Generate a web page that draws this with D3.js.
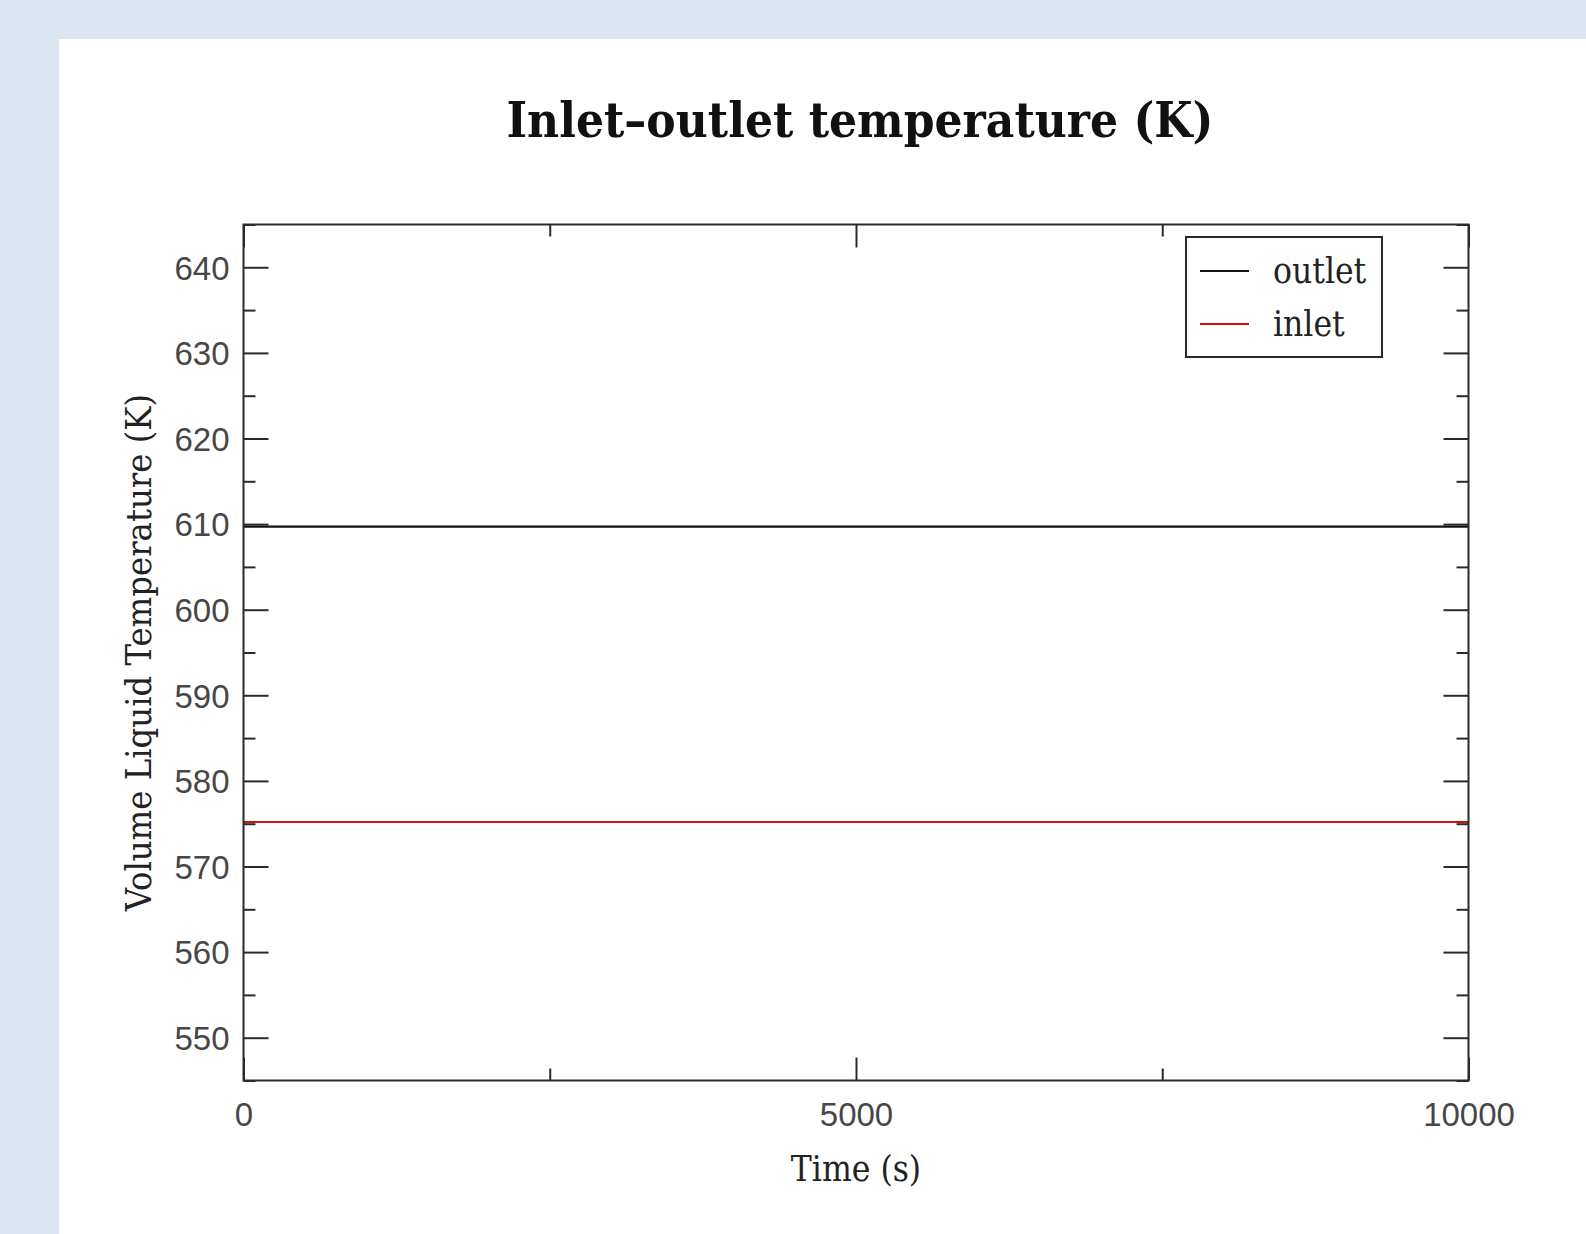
<!DOCTYPE html>
<html>
<head>
<meta charset="utf-8">
<script src="https://cdn.jsdelivr.net/npm/d3@7"></script>
<style>
  html, body { margin: 0; padding: 0; background: #dce6f1; }
  svg { display: block; }
</style>
</head>
<body>
<svg id="chart" width="1586" height="1234"></svg>
<script>
// ---- data ----
const timeValues   = [0, 1000, 2000, 3000, 4000, 5000, 6000, 7000, 8000, 9000, 10000];
const outletValues = [609.7, 609.7, 609.7, 609.7, 609.7, 609.7, 609.7, 609.7, 609.7, 609.7, 609.7];
const inletValues  = [575.2, 575.2, 575.2, 575.2, 575.2, 575.2, 575.2, 575.2, 575.2, 575.2, 575.2];
const seriesNames  = ["outlet", "inlet"];
const seriesColors = ["#111111", "#cc1111"];
const xTickValues  = [0, 5000, 10000];
const xMinorTicks  = [2500, 7500];
const yTickValues  = [550, 560, 570, 580, 590, 600, 610, 620, 630, 640];
const yMinorTicks  = [545, 555, 565, 575, 585, 595, 605, 615, 625, 635, 645];
const titleText    = "Inlet\u2013outlet temperature (K)";
const xLabelText   = "Time (s)";
const yLabelText   = "Volume Liquid Temperature (K)";

// ---- layout ----
const svg = d3.select("#chart");
const W = 1586, H = 1234;
const plot = { left: 243.5, top: 224.5, right: 1468.5, bottom: 1080.5 };

svg.append("rect").attr("x", 59).attr("y", 39).attr("width", W - 59).attr("height", H - 39).attr("fill", "#ffffff");

const x = d3.scaleLinear().domain([0, 10000]).range([plot.left, plot.right]);
const y = d3.scaleLinear().domain([545, 645]).range([plot.bottom, plot.top]);

const axisColor = "#2a2a2a";
const tickFont = "'Liberation Sans', Arial, sans-serif";
const serifFont = "'DejaVu Serif Condensed', 'DejaVu Serif', serif";

function styleAxis(g) {
  g.select(".domain").remove();
  g.selectAll("line").attr("stroke", axisColor).attr("stroke-width", 2);
  g.selectAll("text").attr("fill", "#474747").attr("font-family", tickFont).attr("font-size", 33);
}

// left
svg.append("g").attr("transform", `translate(${plot.left},0)`)
  .call(d3.axisRight(y).tickValues(yTickValues).tickSize(25).tickFormat(""))
  .call(styleAxis);
svg.append("g").attr("transform", `translate(${plot.left},0)`)
  .call(d3.axisRight(y).tickValues(yMinorTicks).tickSize(12).tickFormat(""))
  .call(styleAxis);
svg.append("g").attr("transform", `translate(${plot.left},0)`)
  .call(d3.axisLeft(y).tickValues(yTickValues).tickSize(0).tickPadding(14).tickFormat(d3.format("d")))
  .call(styleAxis)
  .selectAll("text").attr("dy", "0.36em");
// right
svg.append("g").attr("transform", `translate(${plot.right},0)`)
  .call(d3.axisLeft(y).tickValues(yTickValues).tickSize(25).tickFormat(""))
  .call(styleAxis);
svg.append("g").attr("transform", `translate(${plot.right},0)`)
  .call(d3.axisLeft(y).tickValues(yMinorTicks).tickSize(12).tickFormat(""))
  .call(styleAxis);
// bottom
svg.append("g").attr("transform", `translate(0,${plot.bottom})`)
  .call(d3.axisTop(x).tickValues(xTickValues).tickSize(23).tickFormat(""))
  .call(styleAxis);
svg.append("g").attr("transform", `translate(0,${plot.bottom})`)
  .call(d3.axisTop(x).tickValues(xMinorTicks).tickSize(12).tickFormat(""))
  .call(styleAxis);
svg.append("g").attr("transform", `translate(0,${plot.bottom})`)
  .call(d3.axisBottom(x).tickValues(xTickValues).tickSize(0).tickPadding(22).tickFormat(d3.format("d")))
  .call(styleAxis)
  .selectAll("text").attr("dy", "0.71em");
// top
svg.append("g").attr("transform", `translate(0,${plot.top})`)
  .call(d3.axisBottom(x).tickValues(xTickValues).tickSize(23).tickFormat(""))
  .call(styleAxis);
svg.append("g").attr("transform", `translate(0,${plot.top})`)
  .call(d3.axisBottom(x).tickValues(xMinorTicks).tickSize(12).tickFormat(""))
  .call(styleAxis);

// series lines
const seriesData = [outletValues, inletValues];
const line = d3.line().x((d, i) => x(timeValues[i])).y(d => y(d));
seriesData.forEach((vals, k) => {
  svg.append("path").datum(vals)
    .attr("d", line)
    .attr("fill", "none")
    .attr("stroke", seriesColors[k])
    .attr("stroke-width", 2.2);
});

// frame
svg.append("rect")
  .attr("x", plot.left).attr("y", plot.top)
  .attr("width", plot.right - plot.left).attr("height", plot.bottom - plot.top)
  .attr("fill", "none").attr("stroke", axisColor).attr("stroke-width", 2);

// legend
const lg = svg.append("g");
lg.append("rect").attr("x", 1186).attr("y", 237).attr("width", 196).attr("height", 120)
  .attr("fill", "#ffffff").attr("stroke", axisColor).attr("stroke-width", 2);
const legendY = d3.scalePoint().domain(seriesNames).range([271, 324]);
seriesNames.forEach((name, k) => {
  lg.append("line").attr("x1", 1200).attr("x2", 1249)
    .attr("y1", legendY(name)).attr("y2", legendY(name))
    .attr("stroke", seriesColors[k]).attr("stroke-width", 2);
  lg.append("text").attr("x", 1273).attr("y", legendY(name)).attr("dy", "0.33em")
    .attr("font-family", serifFont).attr("font-stretch", "condensed")
    .attr("font-size", 35).attr("fill", "#222").text(name);
});

// title
svg.append("text").attr("x", 860).attr("y", 137).attr("text-anchor", "middle")
  .attr("font-family", serifFont).attr("font-stretch", "condensed").attr("font-weight", "bold")
  .attr("font-size", 49).attr("fill", "#111").text(titleText);

// axis labels
svg.append("text").attr("x", 856).attr("y", 1181).attr("text-anchor", "middle")
  .attr("font-family", serifFont).attr("font-stretch", "condensed")
  .attr("font-size", 35).attr("fill", "#222").text(xLabelText);
svg.append("text").attr("transform", `translate(151,${(plot.top + plot.bottom) / 2}) rotate(-90)`)
  .attr("text-anchor", "middle")
  .attr("font-family", serifFont).attr("font-stretch", "condensed")
  .attr("font-size", 36).attr("fill", "#222").text(yLabelText);
</script>
</body>
</html>
